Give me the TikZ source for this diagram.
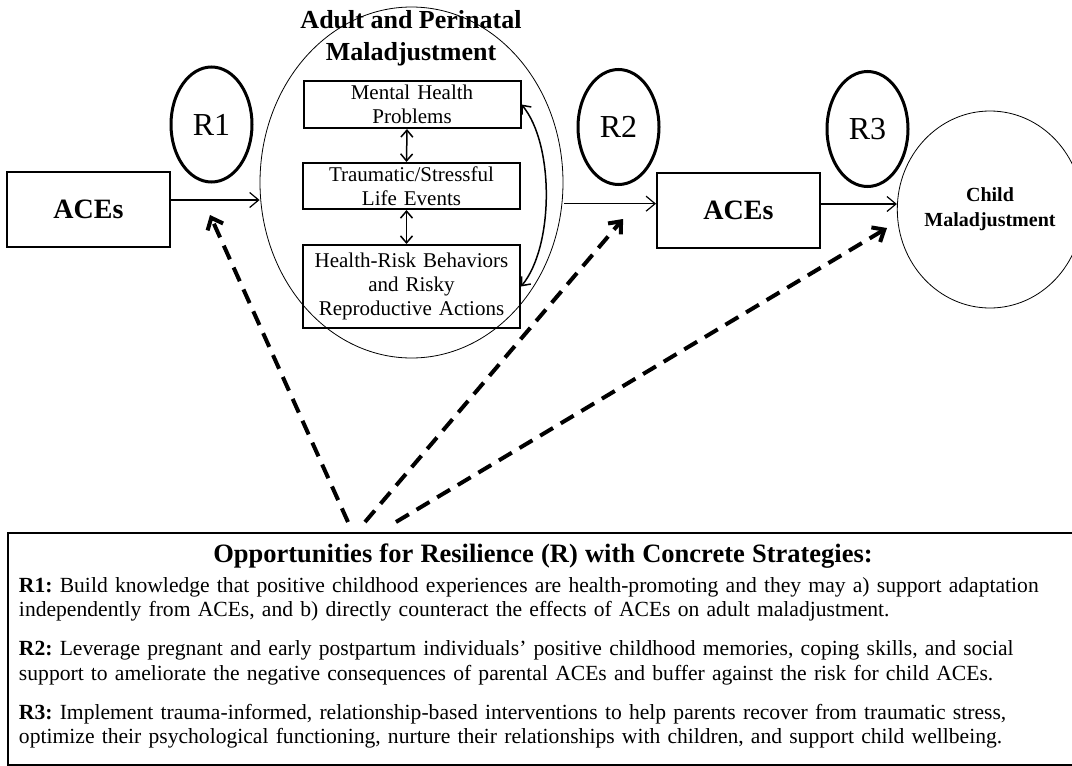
\documentclass[tikz,border=0pt]{standalone}
\usepackage{fontspec}
\setmainfont{Liberation Serif}
\usetikzlibrary{shapes.geometric,arrows.meta}
\frenchspacing

\begin{document}
\begin{tikzpicture}
          [x = 1pt, y = -1pt,
           acebox/.style   = {draw, line width = 2pt, rectangle, inner sep = 0pt, minimum width = 163pt, minimum height = 75pt, font = \bfseries\fontsize{28}{32}\selectfont},
           stepbox/.style  = {draw, line width = 2pt, rectangle, inner sep = 0pt, minimum width = 217pt, text width = 212pt, align = center, font = \fontsize{21}{24}\selectfont},
           outerell/.style = {draw, line width = 0.8pt, ellipse, inner sep = 0pt},
           rring/.style    = {draw, line width = 3pt, ellipse, inner sep = 0pt, minimum width = 81pt, minimum height = 115pt, font = \fontsize{32}{36}\selectfont},
           link/.style     = {line width = 1.2pt, -{Straight Barb[length = 9pt, width = 15pt]}},
           twoway/.style   = {line width = 1.5pt, {Straight Barb[length = 7pt, width = 12pt]}-{Straight Barb[length = 7pt, width = 12pt]}},
           chance/.style   = {line width = 4pt, dash pattern = on 15pt off 9pt, -{Straight Barb[length = 10pt, width = 17pt]}}]

% Define the page
\colorlet{inkcolor}{black}
\useasboundingbox (0,0) rectangle (1072,766);

% Adult and perinatal maladjustment
  \node [outerell, minimum width = 303pt, minimum height = 351pt] (adult) at (411.5,182.5) {};
  \node [align = center, font = \bfseries\fontsize{26}{32}\selectfont] (adulttitle) at (411,38) {Adult and Perinatal\\Maladjustment};
  \node [stepbox, minimum height = 47pt] (mh)  at (412,104.5)   {Mental Health\\Problems};
  \node [stepbox, minimum height = 46pt] (tse) at (411.5,186)   {Traumatic/Stressful\\Life Events};
  \node [stepbox, minimum height = 83pt] (hrb) at (411.5,286.5) {Health-Risk Behaviors\\and Risky\\Reproductive Actions};

% ACEs and child outcome
  \node [acebox] (aces1) at (88.5,209.5) {ACEs};
  \node [acebox] (aces2) at (738.5,210.5) {ACEs};
  \node [outerell, minimum width = 162pt, minimum height = 197pt, align = center,
         font = \bfseries\fontsize{20}{25}\selectfont] (child) at (990,209.5) {Child\\Maladjustment};

% Resilience rings
  \node [rring] (r1) at (211.5,124.5) {R1};
  \node [rring] (r2) at (618.5,127)   {R2};
  \node [rring] (r3) at (867.5,129)   {R3};

% Opportunities box
  \node [draw, line width = 2pt, anchor = north west, inner xsep = 11pt, inner ysep = 8pt,
         text width = 1048pt, align = left, font = \fontsize{21.6}{24.5}\selectfont] (opps) at (7,532)
   {\makebox[1048pt]{\rule{0pt}{21pt}\bfseries\fontsize{26.5}{30}\selectfont Opportunities for Resilience (R) with Concrete Strategies:}\\[5.5pt]
    \textbf{R1:} Build knowledge that positive childhood experiences are health-promoting and they may a) support adaptation\\
    independently from ACEs, and b) directly counteract the effects of ACEs on adult maladjustment.\\[14.5pt]
    \textbf{R2:} Leverage pregnant and early postpartum individuals’ positive childhood memories, coping skills, and social\\
    support to ameliorate the negative consequences of parental ACEs and buffer against the risk for child ACEs.\\[14.5pt]
    \textbf{R3:} Implement trauma-informed, relationship-based interventions to help parents recover from traumatic stress,\\
    optimize their psychological functioning, nurture their relationships with children, and support child wellbeing.\rule[-13pt]{0pt}{13pt}};

% Main path
  \coordinate (a1out) at ([yshift=9.5pt]aces1.east);
  \coordinate (adout) at ([xshift=2pt]adult.-8);
  \coordinate (a2out) at ([yshift=6.5pt]aces2.east);
  \draw [link] (a1out) -- (a1out -| adult.west);
  \draw [link] (adout) -- (adout -| aces2.west);
  \draw [link] (a2out) -- (a2out -| child.west);

% Links inside the adult ellipse
  \draw [twoway] ([xshift=-5pt]mh.south)  -- ([xshift=-5pt]tse.north);
  \draw [twoway] ([xshift=-5pt]tse.south) -- ([xshift=-5pt]hrb.north);
  \draw [twoway] (hrb.east) .. controls +(33,-40) and +(33,40) .. (mh.east);

% Dashed links from the strategies
  \coordinate (from1) at (348,522);
  \coordinate (from2) at (365,522);
  \coordinate (from3) at (396,522);
  \coordinate (hit1)  at (210,215);
  \coordinate (hit2)  at (623,219);
  \coordinate (hit3)  at (887,228);
  \draw [chance, inkcolor] (from1) -- (hit1);
  \draw [chance, inkcolor] (from2) -- (hit2);
  \draw [chance, inkcolor] (from3) -- (hit3);

\end{tikzpicture}
\end{document}
